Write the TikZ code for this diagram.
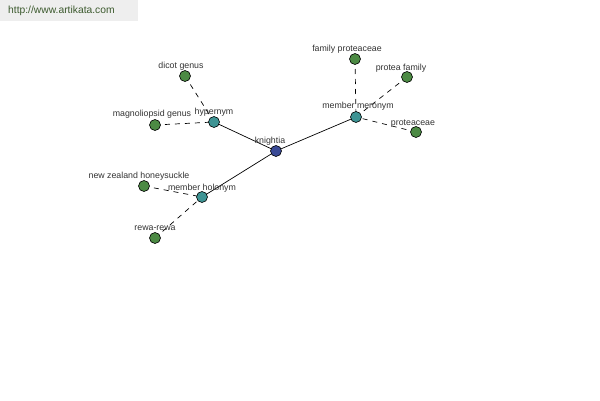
\documentclass[tikz,border=0pt]{standalone}
\usepackage{fontspec}
\setmainfont{Liberation Sans}
\begin{document}
\begin{tikzpicture}[x=1pt,y=-1pt,
  dot/.style={circle,draw=black,line width=0.6pt,minimum size=11pt,inner sep=0pt},
  leaf/.style={dot,fill=leafc},
  hub/.style={dot,fill=hubc},
  root/.style={dot,fill=rootc},
  lbl/.style={font=\fontsize{8.8}{10}\selectfont,text=labc,inner sep=0pt,anchor=base},
  rel/.style={line width=0.7pt,black},
  dsh/.style={line width=0.7pt,black,dash pattern=on 5pt off 5pt}]
\definecolor{leafc}{HTML}{4C8A44}
\definecolor{hubc}{HTML}{3E9494}
\definecolor{rootc}{HTML}{3A4A96}
\definecolor{labc}{HTML}{333333}
\definecolor{hdr}{HTML}{EEEEEE}
\definecolor{hdrt}{HTML}{3C5A2E}
\useasboundingbox (0,0) rectangle (600,400);
\fill[white] (0,0) rectangle (600,400);
\fill[hdr] (0,0) rectangle (138,21);
\node[font=\fontsize{10.3}{11}\selectfont,text=hdrt,anchor=west,inner sep=0pt] (url) at (8,11) {http://www.artikata.com};
% coordinates
\coordinate (pk) at (276,151);
\coordinate (ph) at (214,122);
\coordinate (pm) at (356,117);
\coordinate (pl) at (202,197);
\coordinate (pd) at (185,76);
\coordinate (pg) at (155,125);
\coordinate (pn) at (144,186);
\coordinate (pr) at (155,238);
\coordinate (pf) at (355,59);
\coordinate (pp) at (407,77);
\coordinate (pc) at (416,132);
% edges
\draw[rel] (pk) -- (ph);
\draw[rel] (pk) -- (pm);
\draw[rel] (pk) -- (pl);
\draw[dsh] (pd) -- (ph);
\draw[dsh] (pg) -- (ph);
\draw[dsh] (pn) -- (pl);
\draw[dsh] (pr) -- (pl);
\draw[dsh] (pf) -- (pm);
\draw[dsh] (pp) -- (pm);
\draw[dsh] (pc) -- (pm);
% nodes
\node[root] (k) at (pk) {};
\node[hub] (h) at (ph) {};
\node[hub] (m) at (pm) {};
\node[hub] (l) at (pl) {};
\node[leaf] (d) at (pd) {};
\node[leaf] (g) at (pg) {};
\node[leaf] (n) at (pn) {};
\node[leaf] (r) at (pr) {};
\node[leaf] (f) at (pf) {};
\node[leaf] (p) at (pp) {};
\node[leaf] (c) at (pc) {};
% labels
\node[lbl] (kl) at (270,143) {knightia};
\node[lbl] (hl) at (214,114) {hypernym};
\node[lbl] (ml) at (358,108) {member meronym};
\node[lbl] (ll) at (202,190) {member holonym};
\node[lbl] (dl) at (181,68) {dicot genus};
\node[lbl] (gl) at (152,116) {magnoliopsid genus};
\node[lbl] (nl) at (139,178) {new zealand honeysuckle};
\node[lbl] (rl) at (155,230) {rewa-rewa};
\node[lbl] (fl) at (347,51) {family proteaceae};
\node[lbl] (pl2) at (401,70) {protea family};
\node[lbl] (cl) at (413,125) {proteaceae};
\end{tikzpicture}
\end{document}
